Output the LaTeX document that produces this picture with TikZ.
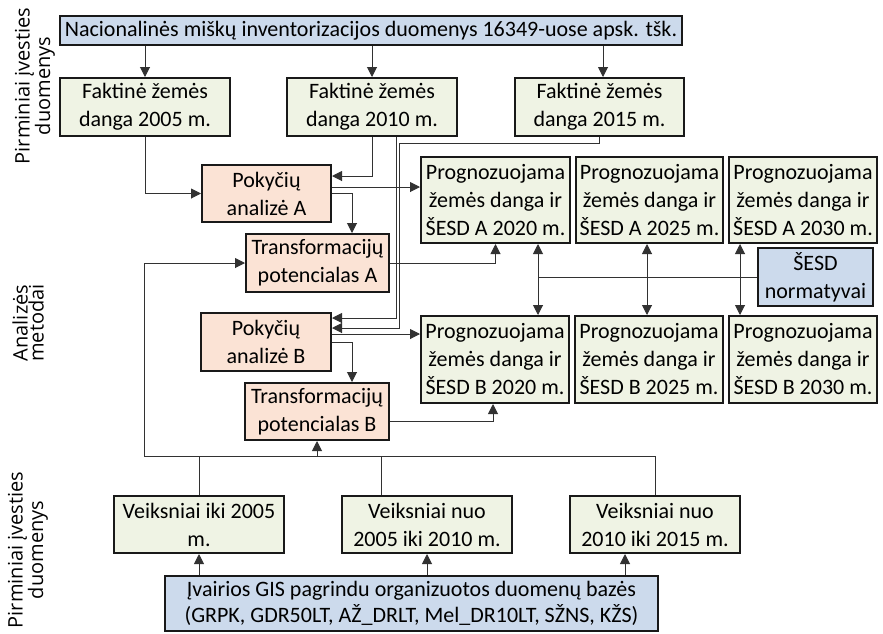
\documentclass[tikz,border=0pt]{standalone}
\usepackage{fontspec}
\setmainfont{Carlito}
\newfontfamily\labfont{Open Sans}
\usetikzlibrary{arrows.meta}
\definecolor{cblue}{RGB}{204,218,236}
\definecolor{cgreen}{RGB}{239,243,228}
\definecolor{cpeach}{RGB}{251,227,213}
\definecolor{cline}{RGB}{50,50,50}
\begin{document}
\begin{tikzpicture}[x=1pt,y=-1pt,
 box/.style={draw=black!90,line width=2pt,align=center,inner sep=0pt,font=\fontsize{22}{28}\selectfont},
 bluebox/.style={box,fill=cblue},
 greenbox/.style={box,fill=cgreen},
 peachbox/.style={box,fill=cpeach},
 conn/.style={draw=cline,line width=1pt},
 arr/.style={conn,-{Triangle[length=10pt,width=10pt]}},
 dbl/.style={conn,{Triangle[length=10pt,width=10pt]}-{Triangle[length=10pt,width=10pt]}},
 sidelab/.style={rotate=90,align=center,font=\labfont\fontsize{20}{16}\selectfont}]
\useasboundingbox (0,0) rectangle (883,633);

% side labels
\node[sidelab] (lab1) at (35,86) {Pirminiai įvesties\\duomenys};
\node[sidelab] (lab2) at (28,323) {Analizės\\metodai};
\node[sidelab] (lab3) at (28,550) {Pirminiai įvesties\\duomenys};

% boxes
\node[bluebox,minimum width=622pt,minimum height=29pt] (top) at (371,30.5) {Nacionalinės miškų inventorizacijos duomenys 16349-uose apsk. tšk.};
\node[greenbox,minimum width=170pt,minimum height=58pt] (F2005) at (145,107) {Faktinė žemės\\danga 2005 m.};
\node[greenbox,minimum width=170pt,minimum height=58pt] (F2010) at (372,107) {Faktinė žemės\\danga 2010 m.};
\node[greenbox,minimum width=169pt,minimum height=58pt] (F2015) at (599.5,107) {Faktinė žemės\\danga 2015 m.};

\node[peachbox,minimum width=129pt,minimum height=57pt] (PA) at (266.5,193.5) {Pokyčių\\analizė A};
\node[peachbox,minimum width=143pt,minimum height=58pt] (TA) at (317.5,263) {Transformacijų\\potencialas A};
\node[peachbox,minimum width=130pt,minimum height=58pt] (PB) at (266,342) {Pokyčių\\analizė B};
\node[peachbox,minimum width=144pt,minimum height=57pt] (TB) at (317,411.5) {Transformacijų\\potencialas B};

\node[greenbox,minimum width=149pt,minimum height=86pt] (PrA2020) at (495.5,200) {Prognozuojama\\žemės danga ir\\ŠESD A 2020 m.};
\node[greenbox,minimum width=147pt,minimum height=86pt] (PrA2025) at (649.5,200) {Prognozuojama\\žemės danga ir\\ŠESD A 2025 m.};
\node[greenbox,minimum width=148pt,minimum height=86pt] (PrA2030) at (803,200) {Prognozuojama\\žemės danga ir\\ŠESD A 2030 m.};
\node[bluebox,minimum width=115pt,minimum height=58pt] (SESD) at (815.5,277) {ŠESD\\normatyvai};
\node[greenbox,minimum width=148pt,minimum height=87pt] (PrB2020) at (495,359.5) {Prognozuojama\\žemės danga ir\\ŠESD B 2020 m.};
\node[greenbox,minimum width=148pt,minimum height=87pt] (PrB2025) at (649,359.5) {Prognozuojama\\žemės danga ir\\ŠESD B 2025 m.};
\node[greenbox,minimum width=148pt,minimum height=87pt] (PrB2030) at (803,359.5) {Prognozuojama\\žemės danga ir\\ŠESD B 2030 m.};

\node[greenbox,minimum width=170pt,minimum height=57pt] (V1) at (199,524.5) {Veiksniai iki 2005\\m.};
\node[greenbox,minimum width=170pt,minimum height=57pt] (V2) at (427,524.5) {Veiksniai nuo\\2005 iki 2010 m.};
\node[greenbox,minimum width=170pt,minimum height=57pt] (V3) at (655,524.5) {Veiksniai nuo\\2010 iki 2015 m.};
\node[bluebox,minimum width=493pt,minimum height=55pt,font=\fontsize{22}{26}\selectfont] (DB) at (411.5,603.5) {Įvairios GIS pagrindu organizuotos duomenų bazės\\(GRPK, GDR50LT, AŽ\_DRLT, Mel\_DR10LT, SŽNS, KŽS)};

% top arrows
\draw[arr] (top.south -| F2005.north) -- (F2005.north);
\draw[arr] (top.south -| F2010.north) -- (F2010.north);
\draw[arr] ([xshift=3.5pt]top.south -| F2015.north) -- ([xshift=3.5pt]F2015.north);

% A branch
\draw[arr] (F2005.south) |- (PA.west);
\path ([yshift=17.5pt]PA.east) coordinate (pa1);
\draw[arr] (F2010.south) |- (pa1);
\path ([yshift=6.5pt]PA.east) coordinate (pa2);
\draw[arr] (pa2) -- (pa2 -| PrA2020.west);
\path ([xshift=34.5pt]TA.north) coordinate (ta1);
\draw[arr] (PA.east) -| (ta1);
\draw[arr] (TA.east) -| (PrA2020.south);

% B branch
\path ([xshift=24pt]F2010.south) coordinate (f10b);
\path ([xshift=27pt]F2010.south) coordinate (f10c);
\path ([yshift=24pt]PB.east) coordinate (pb1);
\path ([yshift=14pt]PB.east) coordinate (pb2);
\path ([yshift=-6pt]F2015.south) coordinate (f15b);
\draw[arr] (f10b) |- (pb1);
\draw[arr] (F2015.south) -- (f15b) -- (f15b -| f10c) -- (f10c |- pb2) -- (pb2);
\path ([yshift=8pt]PB.east) coordinate (pb3);
\draw[arr] (pb3) -- (pb3 -| PrB2020.west);
\path ([xshift=35pt]TB.north) coordinate (tb1);
\draw[arr] (PB.east) -| (tb1);
\path ([yshift=-9.5pt]TB.east) coordinate (tb2);
\path ([xshift=-2pt]PrB2020.south) coordinate (prb1);
\draw[arr] (tb2) -| (prb1);

% SESD links
\path ([xshift=42.5pt]PrA2020.south) coordinate (d1);
\path ([xshift=-2.5pt]PrA2025.south) coordinate (d2);
\path ([xshift=-63pt]PrA2030.south) coordinate (d3);
\draw[dbl] (d1) -- (d1 |- PrB2020.north);
\draw[dbl] (d2) -- (d2 |- PrB2025.north);
\draw[dbl] (d3) -- (d3 |- PrB2030.north);
\draw[conn] (SESD.west) -- (SESD.west -| d1);

% factors bus
\coordinate (busL) at (144,456);
\draw[arr] (busL) |- (TA.west);
\draw[conn] (busL) -- (busL -| V3.north) -- (V3.north);
\draw[conn] (V1.north) -- (V1.north |- busL);
\path ([xshift=-46pt]V2.north) coordinate (v2a);
\draw[conn] (v2a) -- (v2a |- busL);
\draw[arr] (TB.south |- busL) -- (TB.south);

% database arrows
\draw[arr] (DB.north -| V1.south) -- (V1.south);
\draw[arr] (DB.north -| V2.south) -- (V2.south);
\path ([xshift=-30pt]V3.south) coordinate (v3a);
\draw[arr] (DB.north -| v3a) -- (v3a);
\end{tikzpicture}
\end{document}
